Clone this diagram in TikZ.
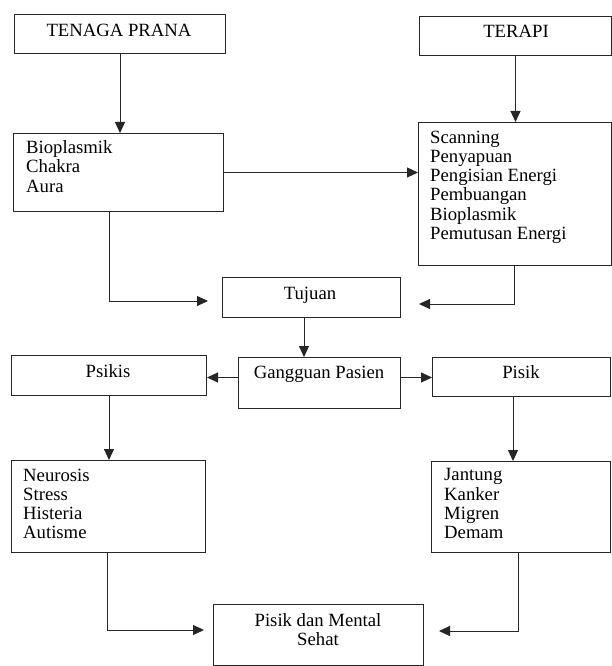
\documentclass[tikz,border=0pt]{standalone}
\usepackage{fontspec}
\setmainfont{Liberation Serif}
\usetikzlibrary{arrows.meta,calc}
\begin{document}
\begin{tikzpicture}[x=1pt,y=-1pt,
  box/.style={draw=black!85, line width=1pt, rectangle, inner sep=0pt, anchor=north west},
  lbl/.style={font=\fontsize{18.7}{19.3}\selectfont, inner sep=0pt, text=black},
  txt/.style={lbl, align=left, anchor=north west},
  arr/.style={draw=black!85, line width=1pt, -{Triangle[length=11pt,width=10pt]}},
]
\fill[white] (0,0) rectangle (612,666);
\useasboundingbox (0,0) rectangle (612,666);

% boxes
\node[box, minimum width=211pt, minimum height=39pt] (tp) at (14,14) {};
\node[box, minimum width=192pt, minimum height=39pt] (ter) at (419,16) {};
\node[box, minimum width=210pt, minimum height=78pt] (bio) at (13,133) {};
\node[box, minimum width=193pt, minimum height=143pt] (scan) at (418,122) {};
\node[box, minimum width=178pt, minimum height=40pt] (tuj) at (222,277) {};
\node[box, minimum width=162pt, minimum height=51pt] (gang) at (238,357) {};
\node[box, minimum width=195pt, minimum height=40pt] (psi) at (11,355) {};
\node[box, minimum width=178pt, minimum height=39pt] (pis) at (432,357) {};
\node[box, minimum width=194pt, minimum height=92pt] (neu) at (11,460) {};
\node[box, minimum width=179pt, minimum height=91pt] (jan) at (431,461) {};
\node[box, minimum width=210pt, minimum height=61pt] (seh) at (213,604) {};

% texts
\node[lbl, anchor=base] (tpt) at (119,37) {TENAGA PRANA};
\node[lbl, anchor=base] (tert) at (516,38) {TERAPI};
\node[txt] (biot) at (26,140.5) {Bioplasmik\\Chakra\\Aura};
\node[txt] (scant) at (430,130.5) {Scanning\\Penyapuan\\Pengisian Energi\\Pembuangan\\Bioplasmik\\Pemutusan Energi};
\node[lbl, anchor=base] (tujt) at (310,299) {Tujuan};
\node[lbl, anchor=base] (gangt) at (319,378) {Gangguan Pasien};
\node[lbl, anchor=base] (psit) at (108,377) {Psikis};
\node[lbl, anchor=base] (pist) at (521,378) {Pisik};
\node[txt] (neut) at (23,468.5) {Neurosis\\Stress\\Histeria\\Autisme};
\node[txt] (jant) at (444,468.5) {Jantung\\Kanker\\Migren\\Demam};
\node[lbl, align=center, anchor=north] (seht) at (318,613.5) {Pisik dan Mental\\Sehat};

% helper coordinates
\coordinate (c1) at (109,301);
\coordinate (c2) at (514,304);
\coordinate (c3) at (304,330);
\coordinate (cg) at (319,377.5);
\coordinate (c5) at (513,430);
\coordinate (c6) at (107,630);
\coordinate (c7) at (518,631);

% connectors
\draw[arr] (tp.south) -- (tp.south |- bio.north);
\draw[arr] (ter.south) -- (ter.south |- scan.north);
\draw[arr] (bio.east) -- (bio.east -| scan.west);
\draw[arr, shorten >=14pt] (c1 |- bio.south) -- (c1) -- (c1 -| tuj.west);
\draw[arr, shorten >=18pt] (c2 |- scan.south) -- (c2) -- (c2 -| tuj.east);
\draw[arr] (c3 |- tuj.south) -- (c3 |- gang.north);
\draw[arr] (cg -| gang.west) -- (cg -| psi.east);
\draw[arr] (cg -| gang.east) -- (cg -| pis.west);
\draw[arr] (psi.south) -- (psi.south |- neu.north);
\draw[arr] (c5 |- pis.south) -- (c5 |- jan.north);
\draw[arr, shorten >=9pt] (c6 |- neu.south) -- (c6) -- (c6 -| seh.west);
\draw[arr, shorten >=15pt] (c7 |- jan.south) -- (c7) -- (c7 -| seh.east);
\end{tikzpicture}
\end{document}
